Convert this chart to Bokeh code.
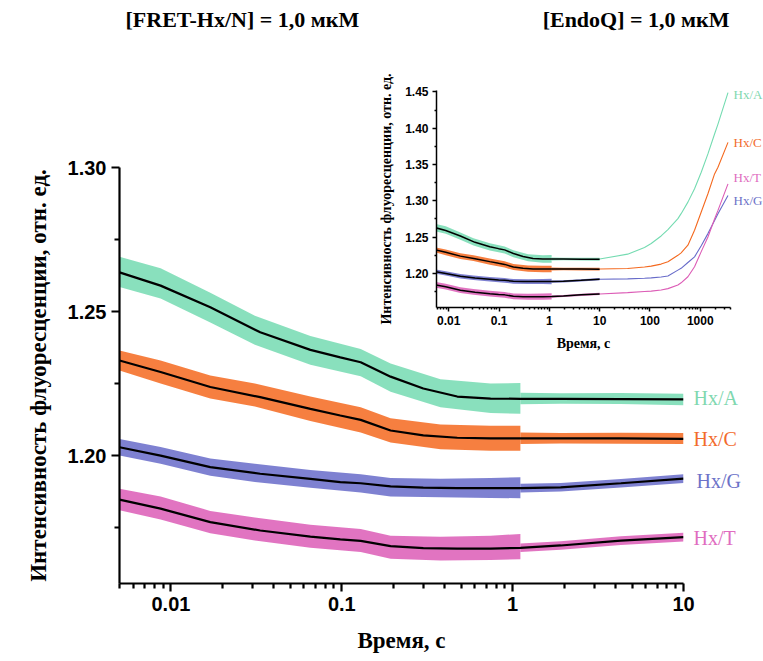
from bokeh.plotting import figure
from bokeh.models import Range1d, FixedTicker, NumeralTickFormatter, Label
from bokeh.layouts import column
from bokeh.embed import file_html
from bokeh.resources import INLINE

# ---------------- data ----------------
series = ["Hx/A", "Hx/C", "Hx/G", "Hx/T"]
colors = ["#74dbb1", "#f4691f", "#676bc9", "#dc5cb6"]
label_colors = ["#7fd8b0", "#f26b2c", "#6c72c8", "#e06cc0"]

# fitted (black) curves, time in s
fit_t = [0.005, 0.0087, 0.017, 0.0333, 0.0655, 0.098, 0.129, 0.193, 0.300, 0.474, 0.743, 1.11, 1.91, 4.3, 10]
fit_A = [1.2636, 1.2590, 1.2515, 1.2428, 1.2367, 1.2341, 1.2324, 1.2274, 1.2233, 1.2205, 1.2198, 1.2197, 1.2197, 1.2196, 1.2195]
fit_C = [1.2330, 1.2290, 1.2238, 1.2203, 1.2162, 1.2139, 1.2124, 1.2087, 1.2070, 1.2062, 1.2060, 1.2060, 1.2060, 1.2060, 1.2058]
fit_G = [1.2029, 1.2000, 1.1960, 1.1937, 1.1919, 1.1908, 1.1904, 1.1893, 1.1889, 1.1887, 1.1887, 1.1887, 1.1890, 1.1904, 1.1920]
fit_T = [1.1847, 1.1816, 1.1769, 1.1740, 1.1719, 1.1709, 1.1704, 1.1686, 1.1679, 1.1677, 1.1677, 1.1680, 1.1688, 1.1705, 1.1717]

# noisy measured traces: envelope, fast part (0.005-1.1 s)
band1_t = [0.005, 0.0087, 0.017, 0.031, 0.0655, 0.129, 0.193, 0.378, 0.743, 1.11]
up1_A = [1.2690, 1.2650, 1.2565, 1.2485, 1.2415, 1.2370, 1.2320, 1.2265, 1.2250, 1.2252]
lo1_A = [1.2585, 1.2545, 1.2462, 1.2385, 1.2315, 1.2275, 1.2222, 1.2168, 1.2148, 1.2145]
up1_C = [1.2365, 1.2330, 1.2278, 1.2250, 1.2205, 1.2168, 1.2130, 1.2108, 1.2104, 1.2104]
lo1_C = [1.2295, 1.2250, 1.2198, 1.2170, 1.2120, 1.2080, 1.2045, 1.2022, 1.2017, 1.2017]
up1_G = [1.2058, 1.2030, 1.1990, 1.1972, 1.1950, 1.1935, 1.1922, 1.1920, 1.1922, 1.1925]
lo1_G = [1.2000, 1.1972, 1.1930, 1.1908, 1.1888, 1.1872, 1.1858, 1.1855, 1.1853, 1.1852]
up1_T = [1.1885, 1.1858, 1.1808, 1.1785, 1.1760, 1.1745, 1.1722, 1.1718, 1.1722, 1.1728]
lo1_T = [1.1810, 1.1778, 1.1730, 1.1705, 1.1680, 1.1665, 1.1642, 1.1636, 1.1638, 1.1640]

# envelope, slow part (1.1-10 s)
band2_t = [1.11, 1.91, 4.3, 10]
up2_A = [1.2218, 1.2216, 1.2217, 1.2215]
lo2_A = [1.2178, 1.2180, 1.2179, 1.2175]
up2_C = [1.2080, 1.2078, 1.2079, 1.2078]
lo2_C = [1.2040, 1.2042, 1.2041, 1.2040]
up2_G = [1.1902, 1.1905, 1.1919, 1.1935]
lo2_G = [1.1872, 1.1875, 1.1889, 1.1905]
up2_T = [1.1695, 1.1703, 1.1720, 1.1732]
lo2_T = [1.1665, 1.1673, 1.1690, 1.1702]

# long-time traces (inset only), 10-3600 s
ext_t = [10, 36, 78, 106, 167, 228, 360, 417, 569, 771, 1047, 1423, 1929, 2254, 3566]
ext_A = [1.2198, 1.2265, 1.2357, 1.2411, 1.2516, 1.2603, 1.2754, 1.2823, 1.2982, 1.3166, 1.3393, 1.3646, 1.3920, 1.4057, 1.4491]
ext_C = [1.2060, 1.2068, 1.2087, 1.2100, 1.2128, 1.2160, 1.2249, 1.2283, 1.2388, 1.2594, 1.2845, 1.3097, 1.3371, 1.3462, 1.3805]
ext_G = [1.1920, 1.1925, 1.1932, 1.1938, 1.1950, 1.1965, 1.2045, 1.2070, 1.2150, 1.2228, 1.2380, 1.2548, 1.2730, 1.2823, 1.3074]
ext_T = [1.1717, 1.1735, 1.1750, 1.1755, 1.1771, 1.1790, 1.1840, 1.1870, 1.1954, 1.2091, 1.2300, 1.2502, 1.2750, 1.2868, 1.3234]

main_x_ticks = [0.01, 0.1, 1, 10]
main_x_labels = ["0.01", "0.1", "1", "10"]
main_y_ticks = [1.20, 1.25, 1.30]
inset_x_ticks = [0.01, 0.1, 1, 10, 100, 1000]
inset_x_labels = ["0.01", "0.1", "1", "10", "100", "1000"]
inset_y_ticks = [1.20, 1.25, 1.30, 1.35, 1.40, 1.45]

titles = ["[FRET-Hx/N] = 1,0 мкМ", "[EndoQ] = 1,0 мкМ"]
y_title = "Интенсивность флуоресценции, отн. ед."
x_title = "Время, с"

fits = [fit_A, fit_C, fit_G, fit_T]
ups1 = [up1_A, up1_C, up1_G, up1_T]
los1 = [lo1_A, lo1_C, lo1_G, lo1_T]
ups2 = [up2_A, up2_C, up2_G, up2_T]
los2 = [lo2_A, lo2_C, lo2_G, lo2_T]
exts = [ext_A, ext_C, ext_G, ext_T]

# ---------------- layout constants (page pixels for free text) ----------------
W, H = 763, 658
title_pos = [(125, 19, "left"), (729, 19, "right")]
main_lab_pos = [(693, 397), (693, 438), (696, 480), (693, 537)]
ins_lab_pos = [(733, 94), (733, 142), (733, 200), (733, 177)]

SANS = "Liberation Sans"
SERIF = "Liberation Serif"


def log_minor(lo_exp, hi_exp):
    return [m * 10.0 ** e for e in range(lo_exp, hi_exp) for m in range(2, 10)]


def style_axes(fig, tick_size, label_size, line_w, maj, mnr, lab_standoff, ax_standoff):
    fig.xgrid.visible = False
    fig.ygrid.visible = False
    fig.outline_line_color = None
    for ax in (fig.xaxis[0], fig.yaxis[0]):
        ax.axis_line_width = line_w
        ax.axis_line_color = "black"
        ax.major_tick_line_width = line_w
        ax.minor_tick_line_width = line_w
        ax.major_tick_out = maj
        ax.major_tick_in = 0
        ax.minor_tick_out = mnr
        ax.minor_tick_in = 0
        ax.major_label_text_font = SANS
        ax.major_label_text_font_style = "bold"
        ax.major_label_text_font_size = tick_size
        ax.major_label_text_color = "black"
        ax.major_label_standoff = lab_standoff
        ax.axis_label_text_font = SERIF
        ax.axis_label_text_font_style = "bold"
        ax.axis_label_text_font_size = label_size
        ax.axis_label_text_color = "black"
        ax.axis_label_standoff = ax_standoff


# ---------------- main plot ----------------
p = figure(width=W, height=H, x_axis_type="log",
           x_range=Range1d(0.005, 10), y_range=Range1d(1.1556, 1.30),
           output_backend="svg", toolbar_location=None,
           min_border_left=119, min_border_right=80,
           min_border_top=167, min_border_bottom=75)
p.frame_align = False
p.background_fill_color = "white"
p.border_fill_color = "white"

for i in range(4):
    p.varea(x=band1_t, y1=los1[i], y2=ups1[i], fill_color=colors[i], fill_alpha=0.85)
    p.varea(x=band2_t, y1=los2[i], y2=ups2[i], fill_color=colors[i], fill_alpha=0.85)
for i in range(4):
    p.line(fit_t, fits[i], line_color="black", line_width=2.2)

style_axes(p, "20px", "23px", 2.2, 8, 5, 5, 14)
p.xaxis.axis_label = x_title
p.yaxis.axis_label = y_title
p.xaxis.ticker = FixedTicker(ticks=main_x_ticks, minor_ticks=log_minor(-3, 1))
p.xaxis.major_label_overrides = dict(zip(main_x_ticks, main_x_labels))
p.yaxis.ticker = FixedTicker(ticks=main_y_ticks, minor_ticks=[1.175, 1.225, 1.275])
p.yaxis.formatter = NumeralTickFormatter(format="0.00")

# ---------------- inset ----------------
ins = figure(width=403, height=297, x_axis_type="log",
             x_range=Range1d(0.0057, 4000), y_range=Range1d(1.153, 1.452),
             output_backend="svg", toolbar_location=None,
             min_border_left=76, min_border_right=33,
             min_border_top=30, min_border_bottom=50,
             styles={"position": "absolute", "left": "360px", "top": "60px"})
ins.frame_align = False
ins.background_fill_alpha = 0
ins.border_fill_alpha = 0

for i in range(4):
    ins.varea(x=band1_t, y1=los1[i], y2=ups1[i], fill_color=colors[i], fill_alpha=0.85)
    ins.varea(x=band2_t, y1=los2[i], y2=ups2[i], fill_color=colors[i], fill_alpha=0.85)
    ins.line(ext_t, exts[i], line_color=colors[i], line_width=1.1)
for i in range(4):
    ins.line(fit_t, fits[i], line_color="black", line_width=1.5)

style_axes(ins, "12px", "14px", 1.5, 4, 2, 4, 8)
ins.xaxis.axis_label = x_title
ins.yaxis.axis_label = y_title
ins.xaxis.ticker = FixedTicker(ticks=inset_x_ticks, minor_ticks=log_minor(-3, 4))
ins.xaxis.major_label_overrides = dict(zip(inset_x_ticks, inset_x_labels))
ins.yaxis.ticker = FixedTicker(ticks=inset_y_ticks,
                               minor_ticks=[1.175, 1.225, 1.275, 1.325, 1.375, 1.425])
ins.yaxis.formatter = NumeralTickFormatter(format="0.00")

# ---------------- transparent overlay for free text ----------------
ov = figure(width=W, height=H, x_range=Range1d(0, W), y_range=Range1d(H, 0),
            x_axis_location=None, y_axis_location=None,
            output_backend="svg", toolbar_location=None, min_border=0,
            styles={"position": "absolute", "left": "0px", "top": "0px"})
ov.frame_align = False
ov.xgrid.visible = False
ov.ygrid.visible = False
ov.outline_line_color = None
ov.background_fill_alpha = 0
ov.border_fill_alpha = 0

for (tx, ty, al), t in zip(title_pos, titles):
    ov.add_layout(Label(x=tx, y=ty, text=t, text_font=SERIF, text_font_style="bold",
                        text_font_size="22px", text_color="black",
                        text_baseline="middle", text_align=al))
for i in range(4):
    ov.add_layout(Label(x=main_lab_pos[i][0], y=main_lab_pos[i][1], text=series[i],
                        text_font=SERIF, text_font_size="20px", text_color=label_colors[i],
                        text_baseline="middle", text_align="left"))
    ov.add_layout(Label(x=ins_lab_pos[i][0], y=ins_lab_pos[i][1], text=series[i],
                        text_font=SERIF, text_font_size="13px", text_color=label_colors[i],
                        text_baseline="middle", text_align="left"))

layout = column(p, ins, ov, styles={"position": "relative"})

open("out.html", "w").write(file_html(layout, INLINE))
